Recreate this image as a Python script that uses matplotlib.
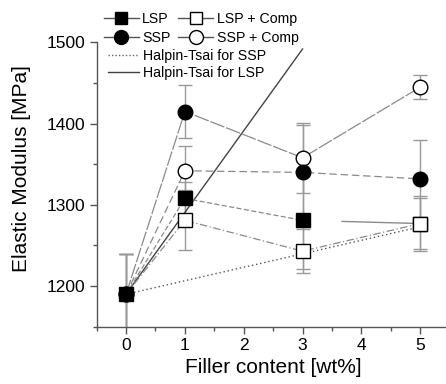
import matplotlib
matplotlib.use("Agg")
import matplotlib.pyplot as plt
from matplotlib.lines import Line2D
import numpy as np

plt.rcParams['font.family'] = ['Liberation Sans', 'DejaVu Sans']

filler = [0, 1, 3, 5]
lsp = [1190, 1308, 1281, 1277]
lsp_err = [50, 20, 60, 34]
lsp_comp = [1190, 1281, 1243, 1277]
lsp_comp_err = [50, 37, 27, 31]
ssp = [1190, 1415, 1340, 1332]
ssp_err = [50, 33, 58, 48]
ssp_comp = [1190, 1342, 1358, 1445]
ssp_comp_err = [50, 31, 43, 15]

ht_ssp_x = [0, 5]
ht_ssp = [1190, 1273]
ht_lsp_x = [0, 3]
ht_lsp = [1190, 1492]

xticks = [0, 1, 2, 3, 4, 5]
yticks = [1200, 1300, 1400, 1500]

W, H = 446, 384
fig = plt.figure(figsize=(W / 100, H / 100), dpi=100)
x0, x1 = 96.6, 449.7
yb, yt = 326.7, 10.0
ax = fig.add_axes([x0 / W, (H - yb) / H, (x1 - x0) / W, (yb - yt) / H])
ax.set_xlim(-0.5, 5.5)
ax.set_ylim(1150, 1540)

grey = '#8a8a8a'
ecol = '#9a9a9a'

# error bars
for vals, errs in [(lsp, lsp_err), (lsp_comp, lsp_comp_err), (ssp, ssp_err), (ssp_comp, ssp_comp_err)]:
    ax.errorbar(filler, vals, yerr=errs, fmt='none', ecolor=ecol, elinewidth=1.0,
                capsize=5, capthick=1.0, zorder=2)

# Halpin-Tsai curves
ax.plot(ht_ssp_x, ht_ssp, linestyle=(0, (1, 2)), color='#555555', lw=1.0, zorder=3)
ax.plot(ht_lsp_x, ht_lsp, linestyle='-', color='#444444', lw=1.0, zorder=3)

# connecting lines as drawn in the figure
ssp_line_a = [ssp[0], ssp[1], ssp_comp[2], ssp_comp[3]]
ssp_line_b = [ssp_comp[0], ssp_comp[1], ssp[2], ssp[3]]
ax.plot(filler, ssp_line_a, color=grey, lw=0.9, linestyle=(0, (12, 1.5)), zorder=3)
ax.plot(filler, ssp_line_b, color=grey, lw=0.9, linestyle=(0, (6, 3)), zorder=3)
ax.plot(filler[:3], lsp[:3], color=grey, lw=0.9, linestyle=(0, (4, 2)), zorder=3)
ax.plot(filler[2:], lsp[2:], color=grey, lw=1.0, linestyle=(0, (0, 28, 63, 40)), zorder=3)
ax.plot(filler, lsp_comp, color=grey, lw=0.9, linestyle=(0, (6, 2, 1, 2)), zorder=3)

# markers
ms_c, ms_s = 10.5, 9.5
ax.plot(filler, lsp, 's', ms=ms_s, mfc='black', mec='black', zorder=4)
ax.plot(filler[1:], lsp_comp[1:], 's', ms=ms_s, mfc='white', mec='black', mew=1.0, zorder=5)
ax.plot(filler, ssp_comp, 'o', ms=ms_c, mfc='white', mec='black', mew=1.0, zorder=5)
ax.plot(filler, ssp, 'o', ms=ms_c, mfc='black', mec='black', zorder=6)

for s in ['top', 'right']:
    ax.spines[s].set_visible(False)
ax.spines['left'].set_bounds(1150, 1500)
for s in ['left', 'bottom']:
    ax.spines[s].set_color('#555555')
    ax.spines[s].set_linewidth(1.0)

ax.set_xticks(xticks)
ax.set_xticks(np.arange(-0.5, 5.51, 0.5), minor=True)
ax.set_yticks(yticks)
ax.set_yticks([1150, 1250, 1350, 1450], minor=True)
ax.tick_params(which='major', direction='out', length=5, width=1, color='#555555', labelsize=12.5, pad=3)
ax.tick_params(which='minor', direction='out', length=3, width=1, color='#555555')

ax.set_xlabel('Filler content [wt%]', fontsize=15, labelpad=4)
ax.set_ylabel('Elastic Modulus [MPa]', fontsize=15, labelpad=11)

lfs = 10.2
h_lsp = Line2D([], [], color='#555555', lw=1, marker='s', ms=9, mfc='black', mec='black')
h_lspc = Line2D([], [], color='#555555', lw=1, marker='s', ms=9, mfc='white', mec='black')
h_ssp = Line2D([], [], color='#555555', lw=1, marker='o', ms=10, mfc='black', mec='black')
h_sspc = Line2D([], [], color='#555555', lw=1, marker='o', ms=10, mfc='white', mec='black')
leg1 = ax.legend([h_lsp, h_ssp, h_lspc, h_sspc], ['LSP', 'SSP', 'LSP + Comp', 'SSP + Comp'],
                 ncol=2, frameon=False, fontsize=lfs, loc='upper left',
                 bbox_to_anchor=(104 / W, 1 - 12 / H), bbox_transform=fig.transFigure,
                 handlelength=2.45, handletextpad=0.25, columnspacing=0.55, labelspacing=0.32,
                 borderpad=0, borderaxespad=0)
ax.add_artist(leg1)
h_hs = Line2D([], [], color='#666666', lw=1, linestyle=(0, (1, 1.5)))
h_hl = Line2D([], [], color='#444444', lw=1)
ax.legend([h_hs, h_hl], ['Halpin-Tsai for SSP', 'Halpin-Tsai for LSP'], frameon=False, fontsize=lfs,
          loc='upper left', bbox_to_anchor=(108 / W, 1 - 49 / H), bbox_transform=fig.transFigure,
          handlelength=2.2, handletextpad=0.25, labelspacing=0.2, borderpad=0, borderaxespad=0)

fig.savefig('out.png', dpi=100)
